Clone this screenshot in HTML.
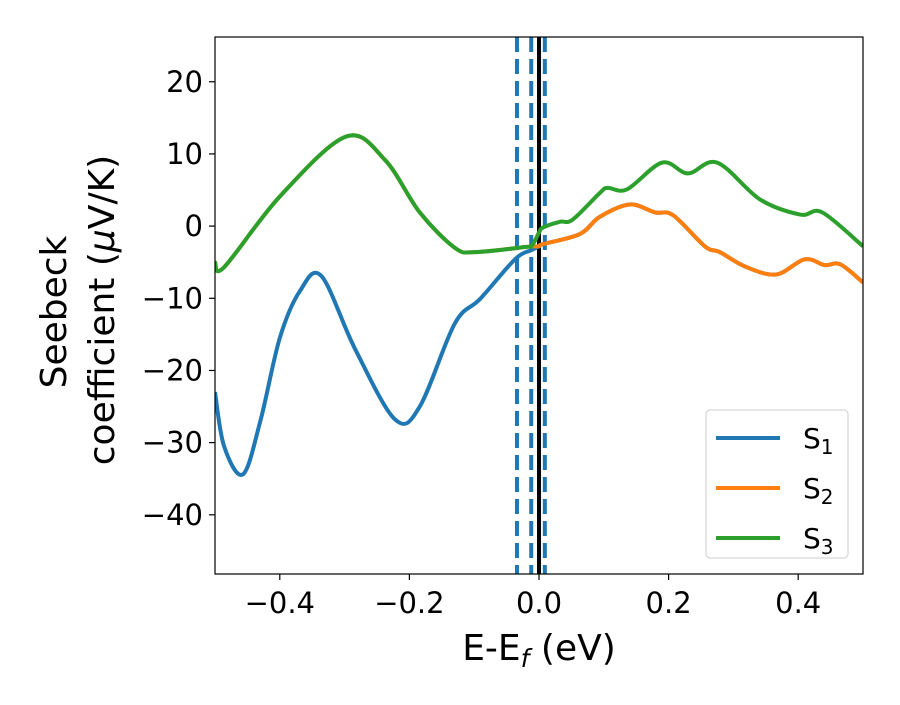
<!DOCTYPE html>
<html><head><meta charset="utf-8"><style>
body{margin:0;background:#fff}
svg text{font-family:"DejaVu Sans","Liberation Sans",sans-serif;fill:#000}
</style></head><body>
<svg id="chart" width="900" height="700" viewBox="0 0 900 700" xmlns="http://www.w3.org/2000/svg">
<g id="plot"></g>
</svg>
<script>
const xTicks=[-0.4,-0.2,0.0,0.2,0.4];
const xTickLabels=["\u22120.4","\u22120.2","0.0","0.2","0.4"];
const yTicks=[20,10,0,-10,-20,-30,-40];
const yTickLabels=["20","10","0","\u221210","\u221220","\u221230","\u221240"];
const s1x=[-0.5,-0.486,-0.457,-0.43,-0.4,-0.369,-0.336,-0.284,-0.222,-0.184,-0.13,-0.091,-0.037,-0.011,0.0,0.006,0.063,0.094,0.14,0.179,0.207,0.256,0.279,0.318,0.366,0.41,0.441,0.465,0.5];
const s1y=[-23,-30.5,-34.4,-27,-15.5,-9,-6.9,-17,-26.8,-25,-13.5,-10.1,-4.6,-3.3,-2.8,-2.5,-1.1,1.3,3.0,1.9,1.5,-2.8,-3.6,-5.6,-6.7,-4.6,-5.4,-5.3,-7.8];
const s2x=[-0.5,-0.486,-0.4,-0.298,-0.238,-0.184,-0.13,-0.099,-0.022,-0.011,0.0,0.006,0.063,0.094,0.14,0.179,0.207,0.256,0.279,0.318,0.366,0.41,0.441,0.465,0.5];
const s2y=[-5.0,-5.7,4.1,12.4,9.2,1.9,-3,-3.6,-2.9,-2.8,-2.8,-2.5,-1.1,1.3,3.0,1.9,1.5,-2.8,-3.6,-5.6,-6.7,-4.6,-5.4,-5.3,-7.8];
const s3x=[-0.5,-0.486,-0.4,-0.298,-0.238,-0.184,-0.13,-0.099,-0.022,-0.011,0.0,0.006,0.032,0.052,0.094,0.106,0.136,0.19,0.23,0.275,0.341,0.403,0.437,0.5];
const s3y=[-5.0,-5.7,4.1,12.4,9.2,1.9,-3,-3.6,-2.9,-2.7,-0.9,-0.2,0.6,0.9,4.6,5.3,5.1,8.8,7.3,8.8,3.7,1.6,1.9,-2.8];
const vlinesDashed=[-0.034,-0.012,0.009];
const fermi=[0.0];
const L=215,R=863,T=37,B=574,xMin=-0.5,xMax=0.5,yMin=-48.2,yMax=26.2;
const X=v=>L+(v-xMin)/(xMax-xMin)*(R-L);
const Y=v=>B-(v-yMin)/(yMax-yMin)*(B-T);
const NS="http://www.w3.org/2000/svg";
const svg=document.getElementById('chart');
const plot=document.getElementById('plot');
function mk(tag,attrs,parent){const e=document.createElementNS(NS,tag);for(const k in attrs)e.setAttribute(k,attrs[k]);(parent||svg).appendChild(e);return e;}
const defs=mk('defs',{});const cp=mk('clipPath',{id:'clip'},defs);mk('rect',{x:L,y:T,width:R-L,height:B-T},cp);
function smooth(xs,ys){const p=xs.map((x,i)=>[X(x),Y(ys[i])]);let d='M'+p[0][0]+','+p[0][1];
for(let i=0;i<p.length-1;i++){const p0=p[i-1]||p[i],p1=p[i],p2=p[i+1],p3=p[i+2]||p2;
const c1=[p1[0]+(p2[0]-p0[0])/6,p1[1]+(p2[1]-p0[1])/6],c2=[p2[0]-(p3[0]-p1[0])/6,p2[1]-(p3[1]-p1[1])/6];
d+=` C${c1[0]},${c1[1]} ${c2[0]},${c2[1]} ${p2[0]},${p2[1]}`;}return d;}
const g=mk('g',{'clip-path':'url(#clip)'},plot);
vlinesDashed.forEach(v=>{const l=mk('line',{x1:X(v),x2:X(v),y1:T,y2:B,stroke:'#1f77b4','stroke-width':4,'stroke-dasharray':'15,7'},g);

});
fermi.forEach(v=>{const l=mk('line',{x1:X(v),x2:X(v),y1:T,y2:B,stroke:'#000','stroke-width':4},g);

});
const series=[[s1x,s1y,'#1f77b4','series-s1'],[s2x,s2y,'#ff7f0e','series-s2'],[s3x,s3y,'#2ca02c','series-s3']];
series.forEach(s=>{const p=mk('path',{d:smooth(s[0],s[1]),fill:'none',stroke:s[2],'stroke-width':4,'stroke-linejoin':'round'},g);

});
const frame=mk('rect',{x:L,y:T,width:R-L,height:B-T,fill:'none',stroke:'#000','stroke-width':1.2},plot);


xTicks.forEach((v,i)=>{mk('line',{x1:X(v),x2:X(v),y1:B,y2:B+6,stroke:'#000','stroke-width':1.2});
const t=mk('text',{x:X(v),y:B+39,'text-anchor':'middle','font-size':29});t.textContent=xTickLabels[i];

});
yTicks.forEach((v,i)=>{mk('line',{x1:L-6,x2:L,y1:Y(v),y2:Y(v),stroke:'#000','stroke-width':1.2});
const t=mk('text',{x:L-12,y:Y(v)+10,'text-anchor':'end','font-size':29});t.textContent=yTickLabels[i];

});
</script>
<svg style="position:absolute;left:0;top:0" width="900" height="700">
<text x="539" y="660" text-anchor="middle" font-size="36">E-E<tspan font-style="italic" font-size="25" dy="7">f</tspan><tspan dy="-7"> (eV)</tspan></text>
<text transform="translate(66,312) rotate(-90)" text-anchor="middle" font-size="36">Seebeck</text>
<text transform="translate(114,310) rotate(-90)" text-anchor="middle" font-size="36">coefficient  (<tspan font-style="italic">μ</tspan>V/K)</text>
<g>
<rect x="706" y="410" width="142" height="148" rx="4" fill="#fff" fill-opacity="0.8" stroke="#ccc"/>
<line x1="716" x2="780" y1="438" y2="438" stroke="#1f77b4" stroke-width="4"/>
<text x="803" y="448" font-size="28">S<tspan font-size="20" dy="6">1</tspan></text>
<line x1="716" x2="780" y1="488" y2="488" stroke="#ff7f0e" stroke-width="4"/>
<text x="803" y="498" font-size="28">S<tspan font-size="20" dy="6">2</tspan></text>
<line x1="716" x2="780" y1="538" y2="538" stroke="#2ca02c" stroke-width="4"/>
<text x="803" y="548" font-size="28">S<tspan font-size="20" dy="6">3</tspan></text>
</g>
</svg>
</body></html>
